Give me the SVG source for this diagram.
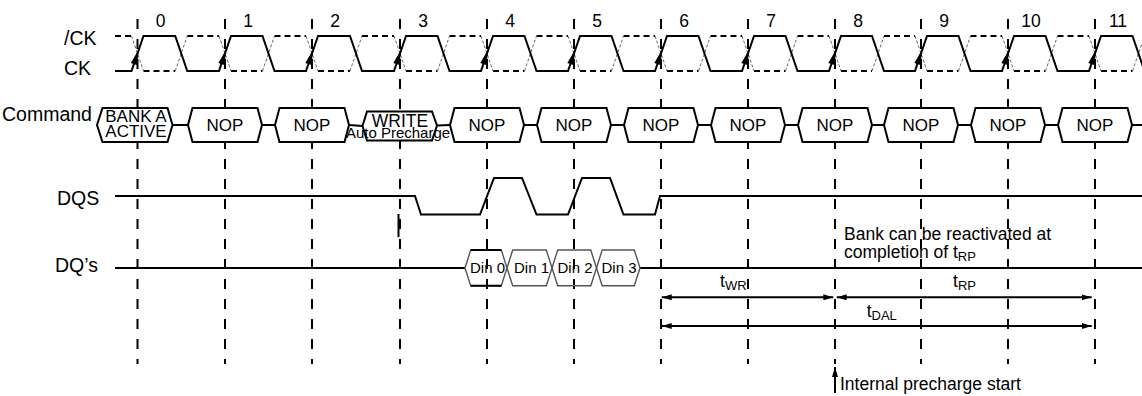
<svg xmlns="http://www.w3.org/2000/svg" xmlns:xlink="http://www.w3.org/1999/xlink" width="1142" height="396" viewBox="0 0 1142 396">
<style>
text{font-family:"Liberation Sans",Arial,sans-serif;fill:#000}
.sig{font-size:19.5px}
.num{font-size:17.5px;text-anchor:middle}
.cmd{font-size:17px;text-anchor:middle}
.din{font-size:15px;text-anchor:middle}
.note{font-size:17.5px}
.sub{font-size:13px}
.grid{stroke:#000;stroke-width:2;stroke-dasharray:10 10;fill:none}
.wave{stroke:#000;stroke-width:2;fill:none}
.ckb{stroke:#000;stroke-width:2;fill:none;stroke-dasharray:6 4}
.ckd{stroke:#666;stroke-width:1;fill:none;stroke-dasharray:3 2}
.hex{stroke:#000;stroke-width:2;fill:#fff}
.dhex{stroke:#555;stroke-width:1.4;fill:none}
.dim{stroke:#000;stroke-width:2;fill:none;marker-start:url(#ah);marker-end:url(#ah)}
</style>
<defs>
<marker id="ah" viewBox="0 0 10 6" refX="10" refY="3" markerWidth="10" markerHeight="6" markerUnits="userSpaceOnUse" orient="auto-start-reverse"><path d="M0,0 L10,3 L0,6 z" fill="#000"/></marker>
<polygon id="ckarrow" points="1.5,49 -6.7,63.1 -0.7,65.1" fill="#000"/>
</defs>
<rect width="1142" height="396" fill="#fff"/>

<g id="signal-labels">
<text class="sig" x="64" y="45">/CK</text>
<text class="sig" x="64" y="75">CK</text>
<text class="sig" x="2" y="121">Command</text>
<text class="sig" x="57" y="205">DQS</text>
<text class="sig" x="55" y="272">DQ’s</text>
</g>

<g id="cycle-numbers">
<text class="num" x="160.5" y="27">0</text>
<text class="num" x="248" y="27">1</text>
<text class="num" x="335" y="27">2</text>
<text class="num" x="423" y="27">3</text>
<text class="num" x="510" y="27">4</text>
<text class="num" x="597" y="27">5</text>
<text class="num" x="684" y="27">6</text>
<text class="num" x="771" y="27">7</text>
<text class="num" x="858" y="27">8</text>
<text class="num" x="944" y="27">9</text>
<text class="num" x="1031" y="27">10</text>
<text class="num" x="1118" y="27">11</text>
</g>

<g id="gridlines">
<line class="grid" x1="137.5" y1="19" x2="137.5" y2="364"/>
<line class="grid" x1="225" y1="19" x2="225" y2="364"/>
<line class="grid" x1="312" y1="19" x2="312" y2="364"/>
<line class="grid" x1="400" y1="19" x2="400" y2="364"/>
<line class="grid" x1="487" y1="19" x2="487" y2="364"/>
<line class="grid" x1="574" y1="19" x2="574" y2="364"/>
<line class="grid" x1="661" y1="19" x2="661" y2="364"/>
<line class="grid" x1="748" y1="19" x2="748" y2="364"/>
<line class="grid" x1="835" y1="19" x2="835" y2="364"/>
<line class="grid" x1="921" y1="19" x2="921" y2="364"/>
<line class="grid" x1="1008" y1="19" x2="1008" y2="364"/>
<line class="grid" x1="1095" y1="19" x2="1095" y2="364"/>
</g>

<g id="ck-bar">
<path class="ckb" d="M115,36 H131.5 M187.25,36 H219 M274.5,36 H306 M362,36 H394 M449.5,36 H481 M536.5,36 H568 M623.5,36 H655 M710.5,36 H742 M797.5,36 H829 M884,36 H915 M970.5,36 H1002 M1057.5,36 H1089 M143.5,71 H175.25 M231,71 H262.5 M318,71 H350 M406,71 H437.5 M493,71 H524.5 M580,71 H611.5 M667,71 H698.5 M754,71 H785.5 M841,71 H872 M927,71 H958.5 M1014,71 H1045.5 M1101,71 H1132.5"/>
<path class="ckd" d="M131.5,36 L143.5,71 M219,36 L231,71 M306,36 L318,71 M394,36 L406,71 M481,36 L493,71 M568,36 L580,71 M655,36 L667,71 M742,36 L754,71 M829,36 L841,71 M915,36 L927,71 M1002,36 L1014,71 M1089,36 L1101,71 M175.25,71 L187.25,36 M262.5,71 L274.5,36 M350,71 L362,36 M437.5,71 L449.5,36 M524.5,71 L536.5,36 M611.5,71 L623.5,36 M698.5,71 L710.5,36 M785.5,71 L797.5,36 M872,71 L884,36 M958.5,71 L970.5,36 M1045.5,71 L1057.5,36 M1132.5,71 L1144.5,36"/>
</g>

<g id="ck">
<path class="wave" d="M115,71 H131.5 L143.5,36 H175.25 L187.25,71 H219 L231,36 H262.5 L274.5,71 H306 L318,36 H350 L362,71 H394 L406,36 H437.5 L449.5,71 H481 L493,36 H524.5 L536.5,71 H568 L580,36 H611.5 L623.5,71 H655 L667,36 H698.5 L710.5,71 H742 L754,36 H785.5 L797.5,71 H829 L841,36 H872 L884,71 H915 L927,36 H958.5 L970.5,71 H1002 L1014,36 H1045.5 L1057.5,71 H1089 L1101,36 H1132.5 L1144.5,71"/>
<use xlink:href="#ckarrow" x="137.5"/>
<use xlink:href="#ckarrow" x="225"/>
<use xlink:href="#ckarrow" x="312"/>
<use xlink:href="#ckarrow" x="400"/>
<use xlink:href="#ckarrow" x="487"/>
<use xlink:href="#ckarrow" x="574"/>
<use xlink:href="#ckarrow" x="661"/>
<use xlink:href="#ckarrow" x="748"/>
<use xlink:href="#ckarrow" x="835"/>
<use xlink:href="#ckarrow" x="921"/>
<use xlink:href="#ckarrow" x="1008"/>
<use xlink:href="#ckarrow" x="1095"/>
</g>

<g id="command-bus">
<path class="wave" d="M172.5,125 H188 M262,125 H275 M349,125 L362.5,126 M437,125.5 L450,125 M524,125 H537 M611,125 H624 M698,125 H711 M785,125 H798 M872,125 H884 M958,125 H971 M1045,125 H1058 M1132,125 H1142"/>
</g>

<g id="cmd-bank-active">
<polygon class="hex" points="97,125 102.5,108 167.5,108 172.5,125 167.5,142 102.5,142"/>
<text class="cmd" x="136" y="121.5">BANK A</text>
<text class="cmd" x="136" y="137">ACTIVE</text>
</g>
<g id="cmd-nop-1"><polygon class="hex" points="188,125 192.5,108 257.5,108 262,125 257.5,142 192.5,142"/><text class="cmd" x="225" y="131">NOP</text></g>
<g id="cmd-nop-2"><polygon class="hex" points="275,125 279.5,108 344.5,108 349,125 344.5,142 279.5,142"/><text class="cmd" x="312" y="131">NOP</text></g>
<g id="cmd-write">
<polygon class="hex" points="362.5,126 367,111.5 432,111.5 437,125.5 432,140.5 367,140.5"/>
<text class="cmd" x="400" y="126.5" style="font-size:17.5px">WRITE</text>
<text class="cmd" x="398" y="138" style="font-size:15px">Auto Precharge</text>
</g>
<g id="cmd-nop-4"><polygon class="hex" points="450,125 454.5,108 519.5,108 524,125 519.5,142 454.5,142"/><text class="cmd" x="487" y="131">NOP</text></g>
<g id="cmd-nop-5"><polygon class="hex" points="537,125 541.5,108 606.5,108 611,125 606.5,142 541.5,142"/><text class="cmd" x="574" y="131">NOP</text></g>
<g id="cmd-nop-6"><polygon class="hex" points="624,125 628.5,108 693.5,108 698,125 693.5,142 628.5,142"/><text class="cmd" x="661" y="131">NOP</text></g>
<g id="cmd-nop-7"><polygon class="hex" points="711,125 715.5,108 780.5,108 785,125 780.5,142 715.5,142"/><text class="cmd" x="748" y="131">NOP</text></g>
<g id="cmd-nop-8"><polygon class="hex" points="798,125 802.5,108 867.5,108 872,125 867.5,142 802.5,142"/><text class="cmd" x="835" y="131">NOP</text></g>
<g id="cmd-nop-9"><polygon class="hex" points="884,125 888.5,108 953.5,108 958,125 953.5,142 888.5,142"/><text class="cmd" x="921" y="131">NOP</text></g>
<g id="cmd-nop-10"><polygon class="hex" points="971,125 975.5,108 1040.5,108 1045,125 1040.5,142 975.5,142"/><text class="cmd" x="1008" y="131">NOP</text></g>
<g id="cmd-nop-11"><polygon class="hex" points="1058,125 1062.5,108 1127.5,108 1132,125 1127.5,142 1062.5,142"/><text class="cmd" x="1095" y="131">NOP</text></g>

<g id="dqs">
<path class="wave" d="M115,196 H415 L421,214.5 H480 L494,178 H522 L536.5,214.5 H568 L582,178 H610 L623.5,214.5 H655 L660,196 H1142"/>
<line class="wave" x1="398.5" y1="214" x2="398.5" y2="237"/>
</g>

<g id="dq">
<path class="wave" d="M115,268 H465 M640,268 H1142"/>
</g>
<g id="din-0">
<polygon class="dhex" points="465,268 470.7,250 501.3,250 507,268 501.3,285.7 470.7,285.7"/>
<path class="wave" d="M470.7,250 H501.3 M470.7,285.7 H501.3"/>
<text class="din" x="487.5" y="273.3">Din 0</text>
</g>
<g id="din-1">
<polygon class="dhex" points="507,268 512.7,250 546.3,250 552,268 546.3,285.7 512.7,285.7"/>
<text class="din" x="531.5" y="273.3">Din 1</text>
</g>
<g id="din-2">
<polygon class="dhex" points="552,268 557.7,250 590.8,250 596.5,268 590.8,285.7 557.7,285.7"/>
<text class="din" x="575" y="273.3">Din 2</text>
</g>
<g id="din-3">
<polygon class="dhex" points="596.5,268 602.2,250 634.3,250 640,268 634.3,285.7 602.2,285.7"/>
<text class="din" x="619" y="273.3">Din 3</text>
</g>

<g id="connectors">
<line class="dim" x1="661.7" y1="297.3" x2="833.3" y2="297.3"/>
<line class="dim" x1="836.7" y1="297.3" x2="1091.7" y2="297.3"/>
<line class="dim" x1="661.7" y1="326" x2="1091.7" y2="326"/>
<line x1="835" y1="393" x2="835" y2="367" stroke="#000" stroke-width="2" marker-end="url(#ah)"/>
</g>

<g id="timing-labels">
<text class="note" x="720" y="287">t<tspan class="sub" dy="3">WR</tspan></text>
<text class="note" x="953" y="287">t<tspan class="sub" dy="3">RP</tspan></text>
<text class="note" x="866.7" y="316.5">t<tspan class="sub" dy="3">DAL</tspan></text>
<text class="note" x="844" y="240">Bank can be reactivated at</text>
<text class="note" x="844" y="257.5">completion of t<tspan class="sub" dy="3">RP</tspan></text>
<text class="note" x="840" y="390">Internal precharge start</text>
</g>
</svg>
